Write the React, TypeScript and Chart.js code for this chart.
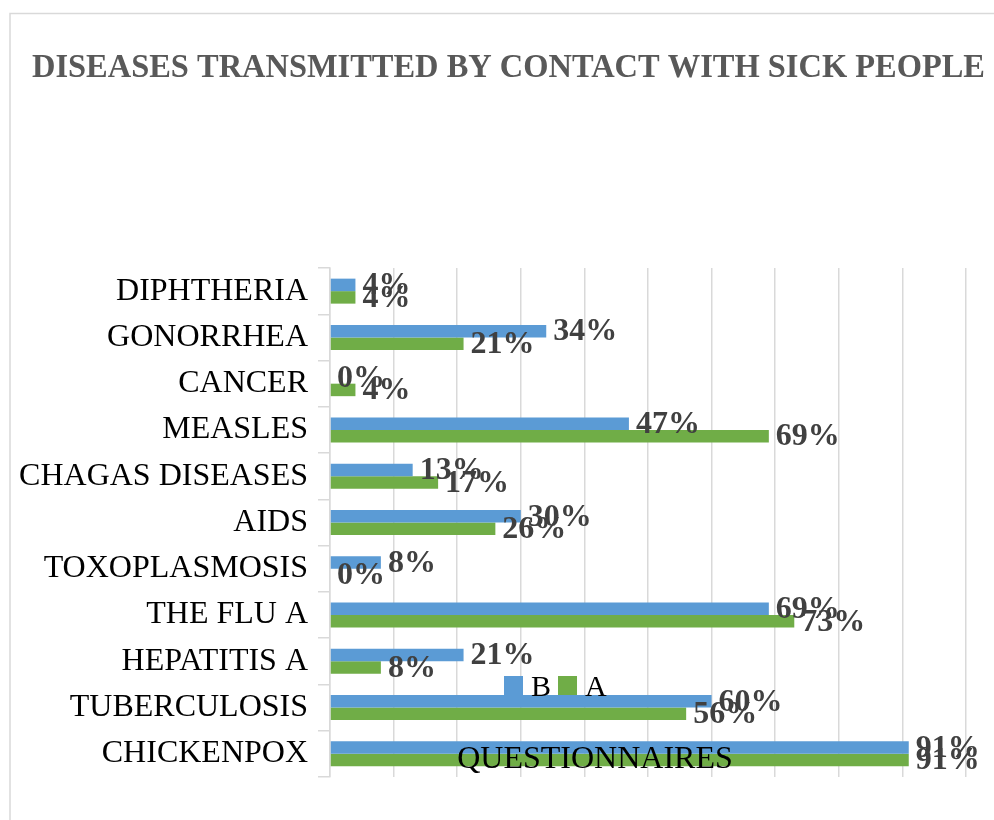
import React, { useEffect, useRef } from "react";
import { Chart, registerables } from "chart.js";

Chart.register(...registerables);

const chartTitle = "DISEASES TRANSMITTED BY CONTACT WITH SICK PEOPLE";
const axisTitle = "QUESTIONNAIRES";
const categories = [
  "DIPHTHERIA",
  "GONORRHEA",
  "CANCER",
  "MEASLES",
  "CHAGAS DISEASES",
  "AIDS",
  "TOXOPLASMOSIS",
  "THE FLU A",
  "HEPATITIS A",
  "TUBERCULOSIS",
  "CHICKENPOX",
];
const seriesNames = ["B", "A"];
const seriesB = [4, 34, 0, 47, 13, 30, 8, 69, 21, 60, 91];
const seriesA = [4, 21, 4, 69, 17, 26, 0, 73, 8, 56, 91];
const xMin = 0;
const xMax = 100;
const xStep = 10;

const BLUE = "#5b9bd5";
const GREEN = "#70ad47";
const GRID = "#d9d9d9";
const SERIF = "'Liberation Serif', 'Times New Roman', serif";

const framePlugin = {
  id: "frame",
  beforeDraw(chart: any) {
    const ctx = chart.ctx;
    ctx.save();
    ctx.fillStyle = "#ffffff";
    ctx.fillRect(0, 0, chart.width, chart.height);
    ctx.strokeStyle = GRID;
    ctx.lineWidth = 1.5;
    ctx.strokeRect(10, 13.5, chart.width + 20, chart.height + 20);
    ctx.restore();
  },
};

const titlePlugin = {
  id: "customTitle",
  afterDraw(chart: any) {
    const ctx = chart.ctx;
    ctx.save();
    ctx.font = `bold 33px ${SERIF}`;
    ctx.fillStyle = "#595959";
    ctx.textAlign = "center";
    ctx.textBaseline = "alphabetic";
    ctx.fillText(chartTitle, 508.5, 77, 953);
    ctx.restore();
  },
};

const dataLabelPlugin = {
  id: "dataLabels",
  afterDatasetsDraw(chart: any) {
    const ctx = chart.ctx;
    ctx.save();
    ctx.font = `bold 32px ${SERIF}`;
    ctx.fillStyle = "#404040";
    ctx.textAlign = "left";
    ctx.textBaseline = "middle";
    chart.data.datasets.forEach((ds: any, di: number) => {
      const meta = chart.getDatasetMeta(di);
      meta.data.forEach((el: any, i: number) => {
        ctx.fillText(`${ds.data[i]}%`, el.x + 7, el.y + 1);
      });
    });
    ctx.restore();
  },
};

const overlayPlugin = {
  id: "overlay",
  afterDraw(chart: any) {
    const ctx = chart.ctx;
    ctx.save();
    // legend
    ctx.font = `30px ${SERIF}`;
    ctx.textBaseline = "alphabetic";
    ctx.textAlign = "left";
    let x = 504;
    const top = 676;
    chart.data.datasets.forEach((ds: any) => {
      ctx.fillStyle = ds.backgroundColor;
      ctx.fillRect(x, top, 19, 19);
      ctx.fillStyle = "#000000";
      ctx.fillText(ds.label, x + 27, 696);
      x += 27 + ctx.measureText(ds.label).width + 7;
    });
    // axis title
    ctx.font = `32px ${SERIF}`;
    ctx.fillStyle = "#000000";
    ctx.textAlign = "center";
    ctx.fillText(axisTitle, 595, 768);
    ctx.restore();
  },
};

export default function App() {
  const ref = useRef<HTMLCanvasElement | null>(null);
  useEffect(() => {
    document.body.style.margin = "0";
    if (!ref.current) return;
    const chart = new Chart(ref.current, {
      type: "bar",
      data: {
        labels: categories,
        datasets: [
          { label: seriesNames[0], data: seriesB, backgroundColor: BLUE, borderWidth: 0 },
          { label: seriesNames[1], data: seriesA, backgroundColor: GREEN, borderWidth: 0 },
        ],
      },
      options: {
        indexAxis: "y",
        responsive: false,
        animation: false,
        devicePixelRatio: 1,
        datasets: { bar: { categoryPercentage: 0.54, barPercentage: 1 } },
        layout: { padding: { top: 268, right: 28, bottom: 43, left: 0 } },
        plugins: {
          legend: { display: false },
          title: { display: false },
          tooltip: { enabled: false },
        },
        scales: {
          x: {
            min: xMin,
            max: xMax,
            ticks: { display: false, stepSize: xStep },
            grid: { color: GRID, lineWidth: 1.5, drawTicks: false },
            border: { display: false },
          },
          y: {
            afterFit(scale: any) {
              scale.width = 330;
            },
            ticks: {
              color: "#000000",
              font: { family: SERIF, size: 32 },
              padding: 10,
            },
            grid: {
              color: GRID,
              lineWidth: 1.5,
              drawOnChartArea: false,
              drawTicks: true,
              tickLength: 12,
              offset: true,
            },
            border: { display: true, color: GRID, width: 1.5 },
          },
        },
      },
      plugins: [framePlugin, dataLabelPlugin, titlePlugin, overlayPlugin],
    });
    return () => chart.destroy();
  }, []);
  return <canvas ref={ref} width={994} height={820} style={{ display: "block" }} />;
}
